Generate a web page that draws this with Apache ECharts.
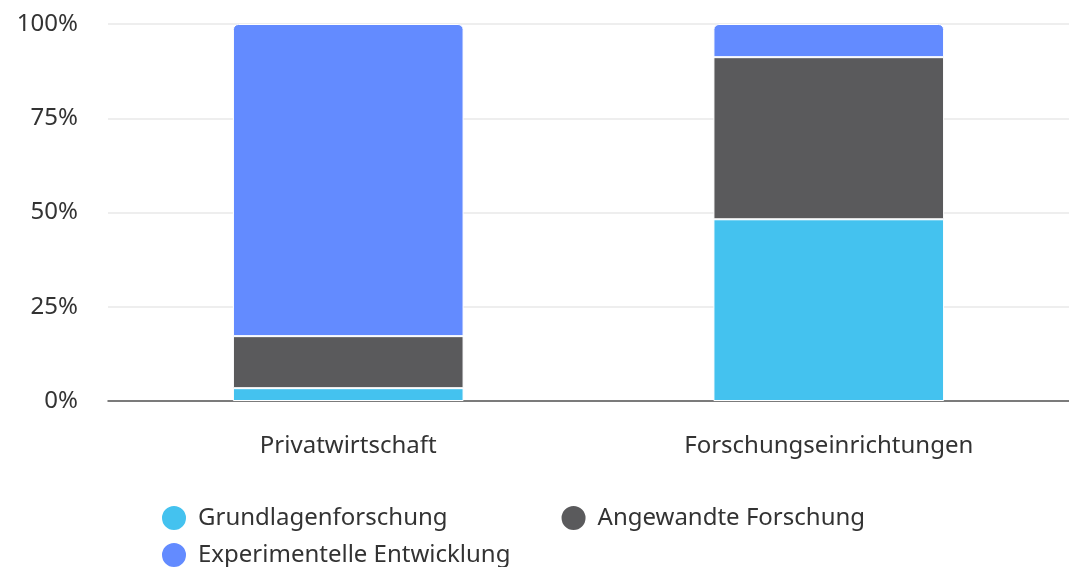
<!DOCTYPE html>
<html>
<head>
<meta charset="utf-8">
<script src="https://cdn.jsdelivr.net/npm/echarts@6/dist/echarts.min.js"></script>
<style>
  html, body { margin: 0; padding: 0; background: #fff; }
  #chart { width: 1069px; height: 567px; }
</style>
</head>
<body>
<div id="chart"></div>
<script>
// Kategorien und Anteile in %
var categories = ['Privatwirtschaft', 'Forschungseinrichtungen'];
var grundlagen = [3.4, 48.2];
var angewandt = [13.8, 43.0];
var experimentell = [82.8, 8.8];
var yTicks = [0, 25, 50, 75, 100];

var font = 'Noto Sans';
var chart = echarts.init(document.getElementById('chart'));

var legendText = { fontSize: 24, color: '#333', fontFamily: font, padding: [0, 0, 0, 6] };

var option = {
    animation: false,
    textStyle: { fontFamily: font },
    grid: { left: 108, right: 0, top: 24, bottom: 166 },
    legend: [
        {
            data: ['Grundlagenforschung', 'Angewandte Forschung'],
            left: 155, top: 499,
            icon: 'circle', itemWidth: 26, itemHeight: 26, itemGap: 112,
            textStyle: legendText
        },
        {
            data: ['Experimentelle Entwicklung'],
            left: 155, top: 536,
            icon: 'circle', itemWidth: 26, itemHeight: 26,
            textStyle: legendText
        }
    ],
    xAxis: {
        type: 'category',
        data: categories,
        axisTick: { show: false },
        axisLine: { lineStyle: { color: '#555', width: 1.5 } },
        axisLabel: { fontSize: 24, color: '#333', margin: 33 }
    },
    yAxis: {
        type: 'value',
        min: yTicks[0], max: yTicks[yTicks.length - 1], interval: 25,
        axisLine: { show: false },
        axisTick: { show: false },
        splitLine: { lineStyle: { color: '#e9e9e9', width: 1.5 } },
        axisLabel: { fontSize: 24, color: '#333', margin: 30, formatter: '{value}%' }
    },
    series: [
        {
            name: 'Grundlagenforschung', type: 'bar', stack: 'a',
            data: grundlagen, barWidth: '48%',
            itemStyle: { color: '#44C2EF', borderColor: '#fff', borderWidth: 1 }
        },
        {
            name: 'Angewandte Forschung', type: 'bar', stack: 'a',
            data: angewandt,
            itemStyle: { color: '#5A5A5C', borderColor: '#fff', borderWidth: 1 }
        },
        {
            name: 'Experimentelle Entwicklung', type: 'bar', stack: 'a',
            data: experimentell,
            itemStyle: { color: '#638BFF', borderColor: '#fff', borderWidth: 1, borderRadius: [5, 5, 0, 0] }
        }
    ]
};

chart.setOption(option);
</script>
</body>
</html>
